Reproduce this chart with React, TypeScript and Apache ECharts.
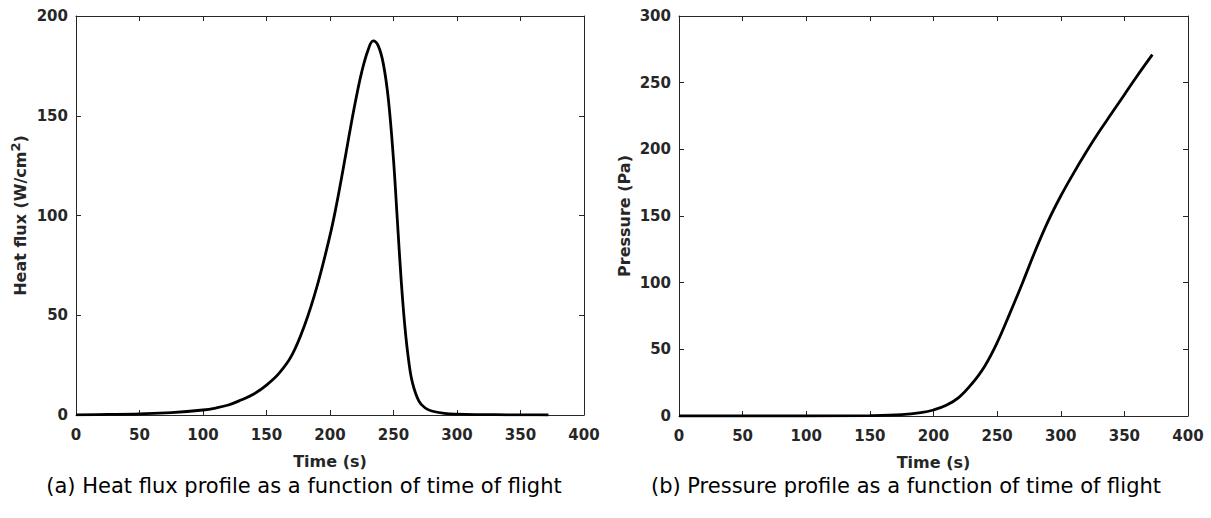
import React, { useEffect, useRef } from "react";
import * as echarts from "echarts";

const heatTime = [0, 25, 50, 75, 100, 110, 120, 130, 140, 150, 160, 170, 180, 190, 200, 205, 210, 215, 220, 225, 230, 234, 238, 242, 246, 250, 253, 256, 259, 262, 265, 270, 275, 280, 290, 300, 320, 340, 360, 372];
const heatFlux = [0.1, 0.3, 0.6, 1.2, 2.5, 3.5, 5, 7.5, 10.5, 15, 21, 30, 45, 65, 90, 105, 122, 140, 157, 172, 183, 187.5, 185, 176, 158, 128, 98, 68, 44, 27, 16, 7, 3.5, 2, 0.8, 0.4, 0.2, 0.1, 0.05, 0];

const presTime = [0, 50, 100, 150, 175, 190, 200, 210, 220, 230, 240, 250, 260, 270, 280, 290, 300, 310, 320, 330, 340, 350, 360, 372];
const pressure = [0, 0, 0, 0.3, 1, 2.5, 4.5, 8, 14, 24, 37, 55, 77, 100, 124, 146, 165, 182, 198, 213, 227, 241, 255, 271];

const xTicks = { min: 0, max: 400, interval: 50 };
const heatTicks = { min: 0, max: 200, interval: 50 };
const presTicks = { min: 0, max: 300, interval: 50 };

const captionA = "(a) Heat flux profile as a function of time of flight";
const captionB = "(b) Pressure profile as a function of time of flight";

const FONT = "DejaVu Sans";
const AX = "#262626";

function App() {
  const ref = useRef<HTMLDivElement>(null);
  useEffect(() => {
    if (!ref.current) return;
    const chart = echarts.init(ref.current, null, { renderer: "svg" });
    const lab = { color: AX, fontFamily: FONT, fontWeight: "bold", fontSize: 15 };
    const nm = { ...lab, fontSize: 16 };
    const line = { show: true, onZero: false, lineStyle: { color: AX, width: 1 } };
    const tick = { show: true, inside: true, length: 5, lineStyle: { color: AX, width: 1 } };
    const mkX = (g: number, bottom: boolean) => ({
      type: "value", gridIndex: g, position: bottom ? "bottom" : "top", ...xTicks,
      axisLine: line, axisTick: tick, splitLine: { show: false },
      axisLabel: bottom ? { ...lab, margin: 12 } : { show: false },
      name: bottom ? "Time (s)" : "", nameLocation: "middle", nameGap: 38,
      nameMoveOverlap: false,
      nameTextStyle: { ...nm },
    });
    const mkY = (g: number, left: boolean, t: any, name: any, gap: number) => ({
      type: "value", gridIndex: g, position: left ? "left" : "right", ...t,
      axisLine: line, axisTick: tick, splitLine: { show: false },
      axisLabel: left ? { ...lab, margin: 8 } : { show: false },
      name: left ? name : "", nameLocation: "middle", nameGap: gap, nameRotate: 90,
      nameMoveOverlap: false,
      nameTextStyle: {
        ...nm,
        rich: {
          a: { ...nm },
          s: { ...nm, fontSize: 13, padding: [0, 0, 9, 0] },
        },
      },
    });
    chart.setOption({
      animation: false,
      backgroundColor: "#fff",
      grid: [
        { left: 76, right: 627, top: 16, bottom: 103 },
        { left: 679, right: 23, top: 16, bottom: 102 },
      ],
      xAxis: [mkX(0, true), mkX(0, false), mkX(1, true), mkX(1, false)],
      yAxis: [
        mkY(0, true, heatTicks, "{a|Heat flux (W/cm}{s|2}{a|)}", 45),
        mkY(0, false, heatTicks, "", 0),
        mkY(1, true, presTicks, "Pressure (Pa)", 47),
        mkY(1, false, presTicks, "", 0),
      ],
      series: [
        {
          type: "line", xAxisIndex: 0, yAxisIndex: 0, showSymbol: false,
          smooth: 0.4,
          lineStyle: { color: "#000", width: 2.8 },
          data: heatTime.map((t, i) => [t, heatFlux[i]]),
        },
        {
          type: "line", xAxisIndex: 2, yAxisIndex: 2, showSymbol: false,
          smooth: 0.4,
          lineStyle: { color: "#000", width: 2.8 },
          data: presTime.map((t, i) => [t, pressure[i]]),
        },
      ],
      graphic: [
        { type: "text", x: 304, y: 486, style: { text: captionA, fill: "#000", font: `21px "${FONT}"`, textAlign: "center", textVerticalAlign: "middle" } },
        { type: "text", x: 906, y: 486, style: { text: captionB, fill: "#000", font: `21px "${FONT}"`, textAlign: "center", textVerticalAlign: "middle" } },
      ],
    });
    return () => chart.dispose();
  }, []);
  return <div ref={ref} style={{ width: 1211, height: 518, position: "absolute", left: 0, top: 0 }} />;
}

export default App;
